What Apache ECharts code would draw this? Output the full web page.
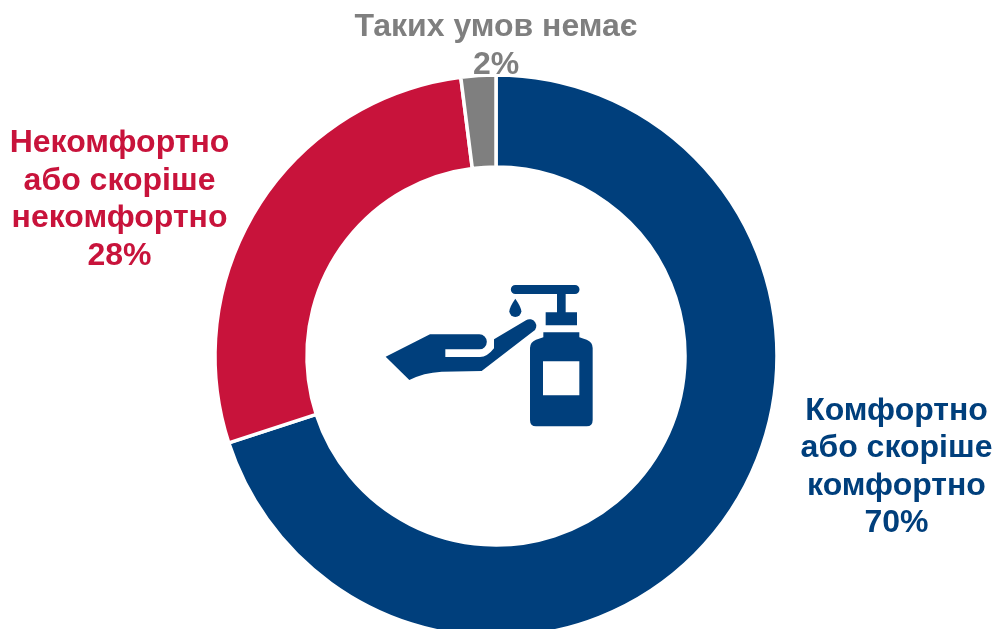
<!DOCTYPE html>
<html>
<head>
<meta charset="utf-8">
<style>html,body{margin:0;padding:0;background:#fff}#chart{width:994px;height:629px}</style>
<script src="https://cdn.jsdelivr.net/npm/echarts@6/dist/echarts.min.js"></script>
</head>
<body>
<div id="chart"></div>
<script>
// Survey answers, in clockwise order from twelve o'clock
const categories = ['Комфортно\nабо скоріше\nкомфортно', 'Некомфортно\nабо скоріше\nнекомфортно', 'Таких умов немає'];
const shares = [70, 28, 2];
const sliceColors = ['#003f7c', '#c8133b', '#7f7f7f'];
const labelCentres = [[896.5, 467], [119.5, 199.5], [496, 46]];

// Pictogram of a hand under a soap dispenser, in a 3x drawing grid
const handPath = 'M47 260 L180 193 L328 193 A22 22 0 0 1 328 238 L226 238 L226 261 L330 261 Q352 261 372 235 L372 208 L468 151 A18 18 0 0 1 490 184 L335 303 L215 305 Q160 308 118 330 Z';
const dropPath = 'M436 86 Q418 112 418 124 A18 17 0 0 0 454 124 Q454 112 436 86 Z';
const bottlePath = 'M436 45 L615 45 A12 12 0 0 1 615 72 L587 72 L587 127 L621 127 L621 166 L527 166 L527 127 L561 127 L561 72 L436 72 A12 12 0 0 1 436 45 Z ' +
  'M520 187 L628 187 L628 202 L650 209 Q668 216 668 234 L668 450 Q668 469 650 469 L498 469 Q480 469 480 450 L480 234 Q480 216 498 209 L520 202 Z ' +
  'M519 274 L519 376 L628 376 L628 274 Z';

const iconParts = { iconHand: handPath, iconDrop: dropPath, iconBottle: bottlePath };
Object.keys(iconParts).forEach(key => {
  echarts.graphic.registerShape(key, echarts.graphic.extendPath(iconParts[key], {}));
});

const chart = echarts.init(document.getElementById('chart'));
chart.setOption({
  animation: false,
  backgroundColor: '#fff',
  series: [{
    type: 'pie',
    center: [496, 356],
    radius: [189, 281],
    startAngle: 90,
    clockwise: true,
    silent: true,
    itemStyle: { borderColor: '#fff', borderWidth: 3.5 },
    data: categories.map((name, i) => ({
      name,
      value: shares[i],
      itemStyle: { color: sliceColors[i] },
      label: { color: sliceColors[i] }
    })),
    label: {
      show: true,
      formatter: p => p.name + '\n' + p.value + '%',
      fontFamily: 'Liberation Sans',
      fontWeight: 'bold',
      fontSize: 32,
      lineHeight: 37.5,
      overflow: 'none',
      align: 'center',
      verticalAlign: 'middle'
    },
    labelLine: { show: false },
    labelLayout: p => ({
      x: labelCentres[p.dataIndex][0],
      y: labelCentres[p.dataIndex][1],
      align: 'center',
      verticalAlign: 'middle'
    })
  }],
  graphic: [{
    type: 'group',
    x: 370,
    y: 270,
    scaleX: 1 / 3,
    scaleY: 1 / 3,
    silent: true,
    children: Object.keys(iconParts).map(key => ({
      type: key,
      style: { fill: '#003f7c' }
    }))
  }]
});
</script>
</body>
</html>
